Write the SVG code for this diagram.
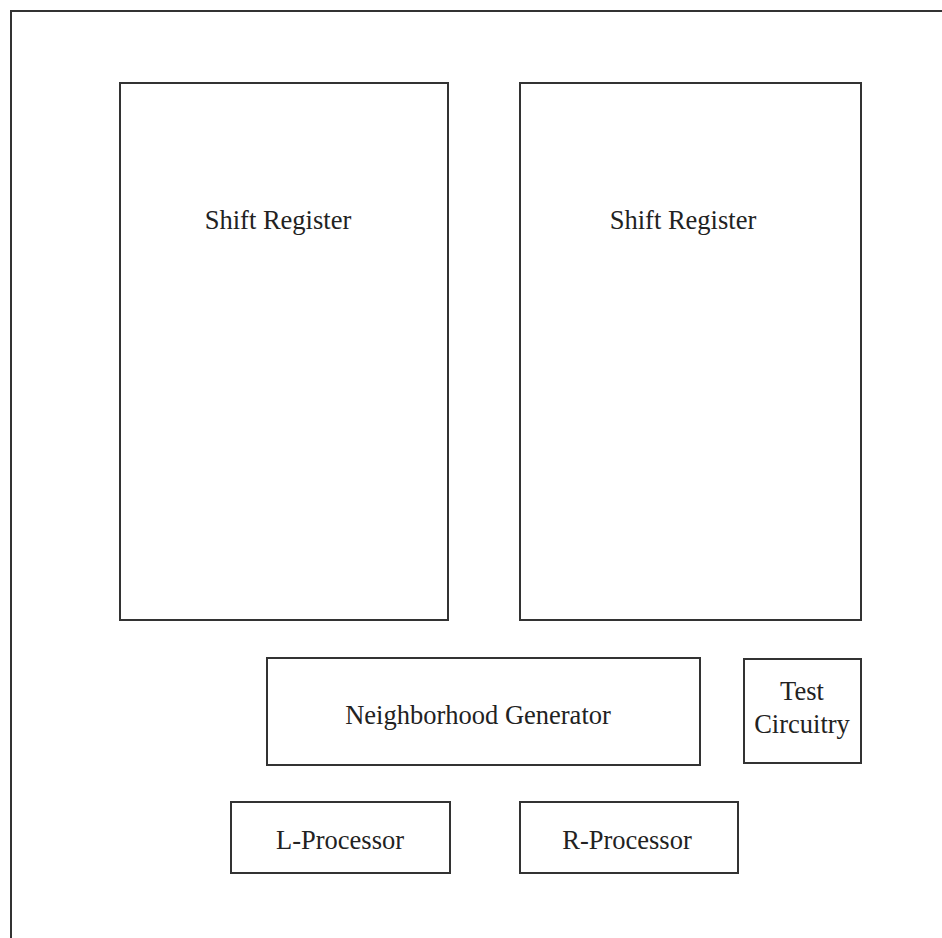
<svg xmlns="http://www.w3.org/2000/svg" width="942" height="938" viewBox="0 0 942 938">
<style>
.box{fill:none;stroke:#333;stroke-width:2}
.lbl{font-family:"Liberation Serif","Times New Roman",serif;font-size:26.5px;fill:#222;text-anchor:middle;dominant-baseline:central}
</style>
<rect width="942" height="938" fill="#fff"/>
<g id="frame"><rect class="box" x="11" y="11" width="940" height="940"/></g>
<g id="shift-register-left"><rect class="box" x="120" y="83" width="328" height="537"/><text class="lbl" x="278" y="220">Shift Register</text></g>
<g id="shift-register-right"><rect class="box" x="520" y="83" width="341" height="537"/><text class="lbl" x="683" y="220">Shift Register</text></g>
<g id="neighborhood-generator"><rect class="box" x="267" y="658" width="433" height="107"/><text class="lbl" x="478" y="715">Neighborhood Generator</text></g>
<g id="test-circuitry"><rect class="box" x="744" y="659" width="117" height="104"/><text class="lbl" x="802" y="691">Test</text><text class="lbl" x="802" y="724">Circuitry</text></g>
<g id="l-processor"><rect class="box" x="231" y="802" width="219" height="71"/><text class="lbl" x="340" y="840">L-Processor</text></g>
<g id="r-processor"><rect class="box" x="520" y="802" width="218" height="71"/><text class="lbl" x="627" y="840">R-Processor</text></g>
<g id="connectors"></g>
</svg>
